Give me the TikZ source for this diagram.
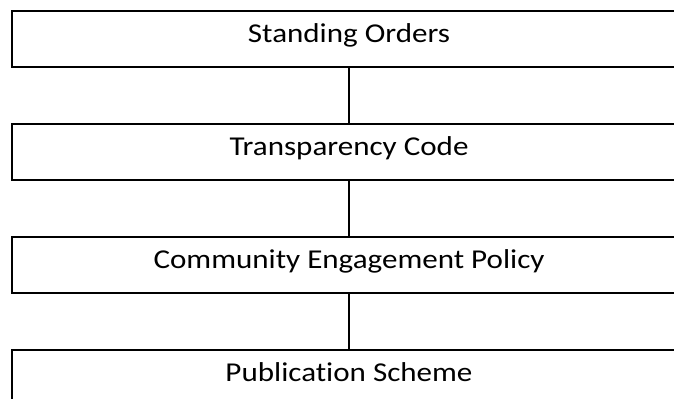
\documentclass[tikz,border=0pt]{standalone}
\usepackage{fontspec}
\setmainfont{Carlito}[FakeStretch=1.14,Ligatures=NoCommon]
\usepackage{tikz}

\begin{document}
\begin{tikzpicture}[line width=1.15pt]
  \tikzstyle{box}=[rectangle,draw,minimum width=13.48cm,minimum height=1.12cm,inner sep=0pt,text height=0.7em,text depth=0.3em,font=\fontsize{15.5}{18}\selectfont]
  \path[use as bounding box,clip](0,0) rectangle (13.48,-7.98);
  \node(orders) at (6.98,-0.78) [box]{Standing Orders};
  \node(code) at (6.98,-3.04) [box]{Transparency Code};
  \node(policy) at (6.98,-5.30) [box]{Community Engagement Policy};
  \node(scheme) at (6.98,-7.56) [box]{Publication Scheme};
  \draw(orders)--(code);
  \draw(code)--(policy);
  \draw(policy)--(scheme);
\end{tikzpicture}
\end{document}
